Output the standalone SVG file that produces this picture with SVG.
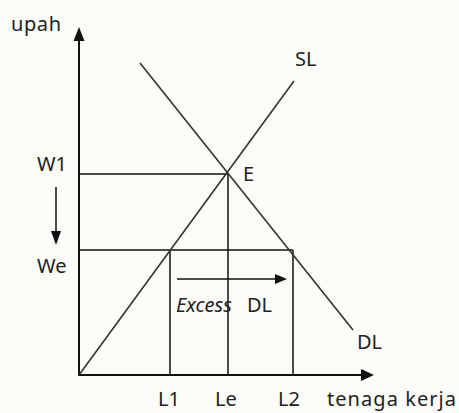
<svg xmlns="http://www.w3.org/2000/svg" width="459" height="413" viewBox="0 0 459 413">
<style>
.ln{stroke:#111;stroke-width:1.5;fill:none}
.ax{stroke:#111;stroke-width:2;fill:none}
.cv{stroke:#333;stroke-width:1.6;fill:none}
.hd{fill:#111;stroke:none}
text{font-family:"Noto Sans","Open Sans","DejaVu Sans",sans-serif;font-size:20px;fill:#222}
.it{font-style:italic}
</style>
<rect x="0" y="0" width="459" height="413" fill="#fbfcf8"/>
<g id="axes">
<line class="ax" x1="79" y1="376" x2="79" y2="40"/>
<polygon class="hd" points="79,27 73.5,41 84.5,41"/>
<line class="ax" x1="78" y1="375" x2="362" y2="375"/>
<polygon class="hd" points="374,375 361,369 361,381"/>
</g>
<g id="connectors">
<line class="ln" x1="79" y1="174" x2="228" y2="174"/>
<line class="ln" x1="79" y1="250" x2="293" y2="250"/>
<line class="ln" x1="170" y1="250" x2="170" y2="375"/>
<line class="ln" x1="228" y1="174" x2="228" y2="375"/>
<line class="ln" x1="293" y1="250" x2="293" y2="375"/>
<line class="ln" x1="56" y1="187" x2="56" y2="233"/>
<polygon class="hd" points="56,245 51,231 61,231"/>
<line class="ln" x1="177" y1="279" x2="276" y2="279"/>
<polygon class="hd" points="287,279 275,274 275,284"/>
</g>
<g id="SL">
<line class="cv" x1="79" y1="375" x2="294" y2="81"/>
<text x="295" y="66">SL</text>
</g>
<g id="DL">
<line class="cv" x1="140" y1="63" x2="353" y2="330"/>
<text x="357" y="349">DL</text>
</g>
<g id="E"><text x="243" y="181">E</text></g>
<g id="labels">
<text x="11" y="31" textLength="50">upah</text>
<text x="37" y="171">W1</text>
<text x="37" y="273">We</text>
<text x="176" y="312"><tspan class="it">Excess</tspan><tspan x="247">DL</tspan></text>
<text x="158" y="406">L1</text>
<text x="215" y="406">Le</text>
<text x="278" y="406">L2</text>
<text x="327" y="406" textLength="129">tenaga kerja</text>
</g>
</svg>
